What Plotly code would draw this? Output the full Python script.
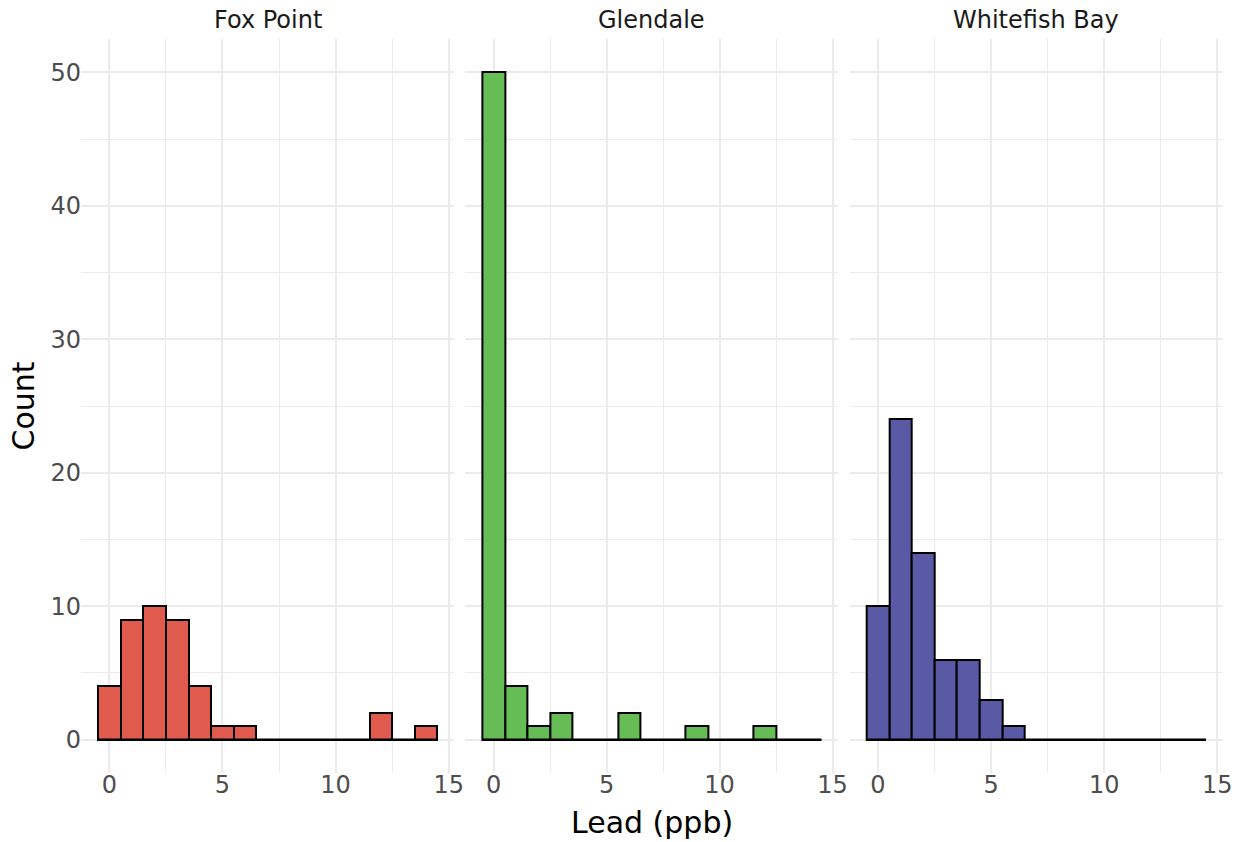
import plotly.graph_objects as go

# Lead histogram counts per city, one bin per ppb (bins centred on integers)
lead_bins = list(range(0, 15))
cities = ["Fox Point", "Glendale", "Whitefish Bay"]
fox_point_counts = [4, 9, 10, 9, 4, 1, 1, 0, 0, 0, 0, 0, 2, 0, 1]
glendale_counts = [50, 4, 1, 2, 0, 0, 2, 0, 0, 1, 0, 0, 1, 0, 0]
whitefish_bay_counts = [10, 24, 14, 6, 6, 3, 1, 0, 0, 0, 0, 0, 0, 0, 0]
city_colors = ["#E05A4E", "#66BD55", "#5959A6"]
x_ticks = [0, 5, 10, 15]
y_ticks = [0, 10, 20, 30, 40, 50]

series = [fox_point_counts, glendale_counts, whitefish_bay_counts]
bin_width = 1.0

domains = [[0.0, 0.3270], [0.3366, 0.6631], [0.6731, 1.0]]
x_range = [-1.25, 15.25]
y_range = [-2.5, 52.5]

GRID = "#EBEBEB"
TICK_FONT = dict(family="DejaVu Sans", size=24, color="#4D4D4D")

fig = go.Figure()

for i, (city, counts, color) in enumerate(zip(cities, series, city_colors)):
    xa = "x" if i == 0 else f"x{i+1}"
    ya = "y" if i == 0 else f"y{i+1}"
    fig.add_trace(go.Bar(
        x=lead_bins, y=counts, width=bin_width,
        marker=dict(color=color, line=dict(color="black", width=2)),
        xaxis=xa, yaxis=ya, showlegend=False, name=city,
    ))
    # baseline outline spanning every bin (empty bins drawn flat)
    edges = [lead_bins[0] - bin_width / 2, lead_bins[-1] + bin_width / 2]
    fig.add_trace(go.Scatter(
        x=edges, y=[0, 0], mode="lines",
        line=dict(color="black", width=2.4),
        xaxis=xa, yaxis=ya, showlegend=False, hoverinfo="skip",
    ))
    # facet strip label
    fig.add_annotation(
        text=city, x=sum(domains[i]) / 2, y=1, xref="paper", yref="paper",
        yanchor="bottom", xanchor="center", yshift=3, showarrow=False,
        font=dict(family="DejaVu Sans", size=24, color="#1A1A1A"),
    )

axis_common = dict(
    showline=False, zeroline=False, ticks="", gridcolor=GRID, gridwidth=2,
    tickfont=TICK_FONT, automargin=False,
)

layout = dict(
    width=1240, height=842,
    margin=dict(l=81, r=17, t=39, b=69),
    paper_bgcolor="white", plot_bgcolor="white",
    bargap=0, font=dict(family="DejaVu Sans"),
)

for i in range(3):
    key = "" if i == 0 else str(i + 1)
    layout["xaxis" + key] = dict(
        axis_common, domain=domains[i], range=x_range,
        tickvals=x_ticks, anchor="y" + key, ticklabelstandoff=-5,
        minor=dict(showgrid=True, gridcolor=GRID, gridwidth=1,
                   tickvals=[2.5, 7.5, 12.5]),
    )
    layout["yaxis" + key] = dict(
        axis_common, range=y_range, tickvals=y_ticks, anchor="x" + key,
        showticklabels=(i == 0), ticklabelstandoff=-1,
        minor=dict(showgrid=True, gridcolor=GRID, gridwidth=1,
                   tickvals=[5, 15, 25, 35, 45]),
    )

fig.update_layout(**layout)

fig.add_annotation(
    text="Lead (ppb)", x=0.5, y=0, xref="paper", yref="paper",
    yanchor="top", yshift=-30, showarrow=False,
    font=dict(family="DejaVu Sans", size=30, color="black"),
)
fig.add_annotation(
    text="Count", x=0, y=0.5, xref="paper", yref="paper", textangle=-90,
    xanchor="right", xshift=-39, showarrow=False,
    font=dict(family="DejaVu Sans", size=30, color="black"),
)

fig.write_html("out.html")
